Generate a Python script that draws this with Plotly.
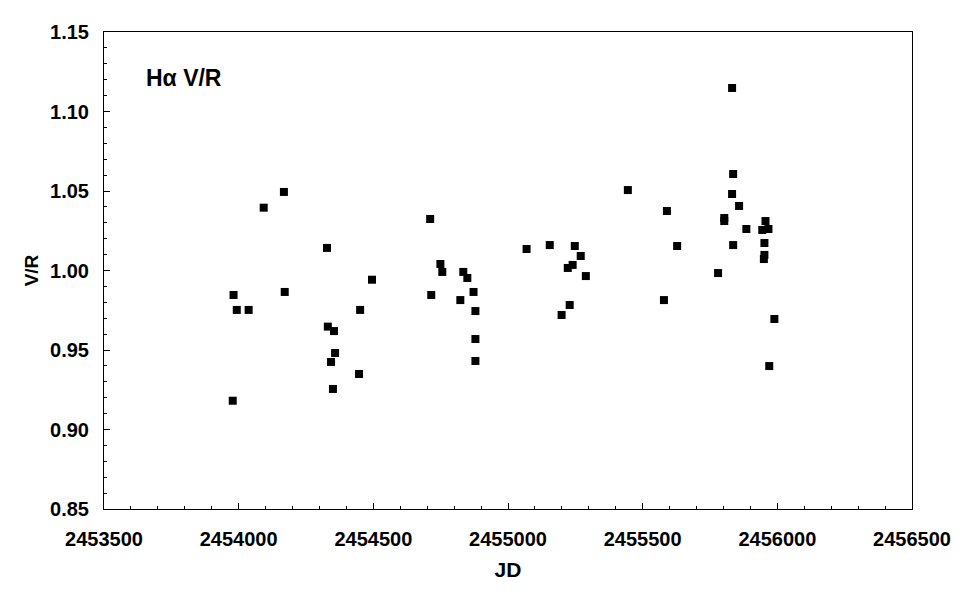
import plotly.graph_objects as go

jd = [2454168, 2454093, 2454711, 2454328, 2454749, 2454756, 2454834, 2454849,
      2454495, 2453981, 2454171, 2454715, 2454872, 2454823, 2453993, 2454037,
      2454451, 2454879, 2454331, 2454354, 2454358, 2454343, 2454879, 2454879,
      2454447, 2454350, 2453978,
      2455445, 2455069, 2455155, 2455248, 2455270, 2455240, 2455222, 2455289,
      2455229, 2455199,
      2455832, 2455836, 2455832, 2455858, 2455590, 2455803, 2455803, 2455885,
      2455956, 2455944, 2455967, 2455952, 2455628, 2455836, 2455952, 2455950,
      2455780, 2455579, 2455989, 2455970]
vr = [1.0494, 1.0395, 1.0324, 1.0142, 1.0041, 0.9991, 0.9991, 0.9953,
      0.9942, 0.9846, 0.9865, 0.9846, 0.9865, 0.9814, 0.9752, 0.9752,
      0.9752, 0.9745, 0.9647, 0.9619, 0.9481, 0.9425, 0.9569, 0.9431,
      0.9349, 0.9255, 0.9181,
      1.0506, 1.0135, 1.0160, 1.0154, 1.0091, 1.0035, 1.0016, 0.9965,
      0.9783, 0.9720,
      1.1148, 1.0607, 1.0481, 1.0406, 1.0374, 1.0330, 1.0311, 1.0261,
      1.0311, 1.0255, 1.0261, 1.0173, 1.0154, 1.0160, 1.0098, 1.0072,
      0.9984, 0.9814, 0.9695, 0.9399]

x_ticks = [2453500, 2454000, 2454500, 2455000, 2455500, 2456000, 2456500]
y_ticks = [0.85, 0.90, 0.95, 1.00, 1.05, 1.10, 1.15]

font_family = "Liberation Sans, Arial, sans-serif"

fig = go.Figure()
fig.add_trace(go.Scatter(
    x=jd, y=vr, mode="markers",
    marker=dict(symbol="square", size=8, color="black", line=dict(width=0)),
    showlegend=False,
))

fig.update_layout(
    width=968, height=605,
    margin=dict(l=96, r=64, t=24, b=104),
    paper_bgcolor="white", plot_bgcolor="white",
    font=dict(family=font_family, size=20, color="black"),
    annotations=[dict(
        x=0.05, y=0.904, xref="paper", yref="paper", xanchor="left", yanchor="middle",
        text="<b>Hα V/R</b>", showarrow=False,
        font=dict(family=font_family, size=23, color="black"),
    )],
)

fig.update_xaxes(
    range=[2453500, 2456500],
    tickmode="array", tickvals=x_ticks, ticktext=[f"<b>{v}</b>" for v in x_ticks],
    ticks="inside", ticklen=6, tickwidth=1, tickcolor="black",
    ticklabelstandoff=12,
    minor=dict(dtick=100, tick0=2453500, ticks="inside", ticklen=3, tickcolor="black", showgrid=False),
    showline=True, linecolor="black", linewidth=1, mirror=True,
    showgrid=False, zeroline=False,
    title=dict(text="<b>JD</b>", font=dict(size=21), standoff=13),
)
fig.update_yaxes(
    range=[0.85, 1.15],
    tickmode="array", tickvals=y_ticks, ticktext=[f"<b>{v:.2f}</b>" for v in y_ticks],
    ticks="inside", ticklen=6, tickwidth=1, tickcolor="black",
    ticklabelstandoff=10,
    minor=dict(dtick=0.01, tick0=0.85, ticks="inside", ticklen=3, tickcolor="black", showgrid=False),
    showline=True, linecolor="black", linewidth=1, mirror=True,
    showgrid=False, zeroline=False,
    title=dict(text="<b>V/R</b>", font=dict(size=19), standoff=6),
)

fig.write_html("out.html")
